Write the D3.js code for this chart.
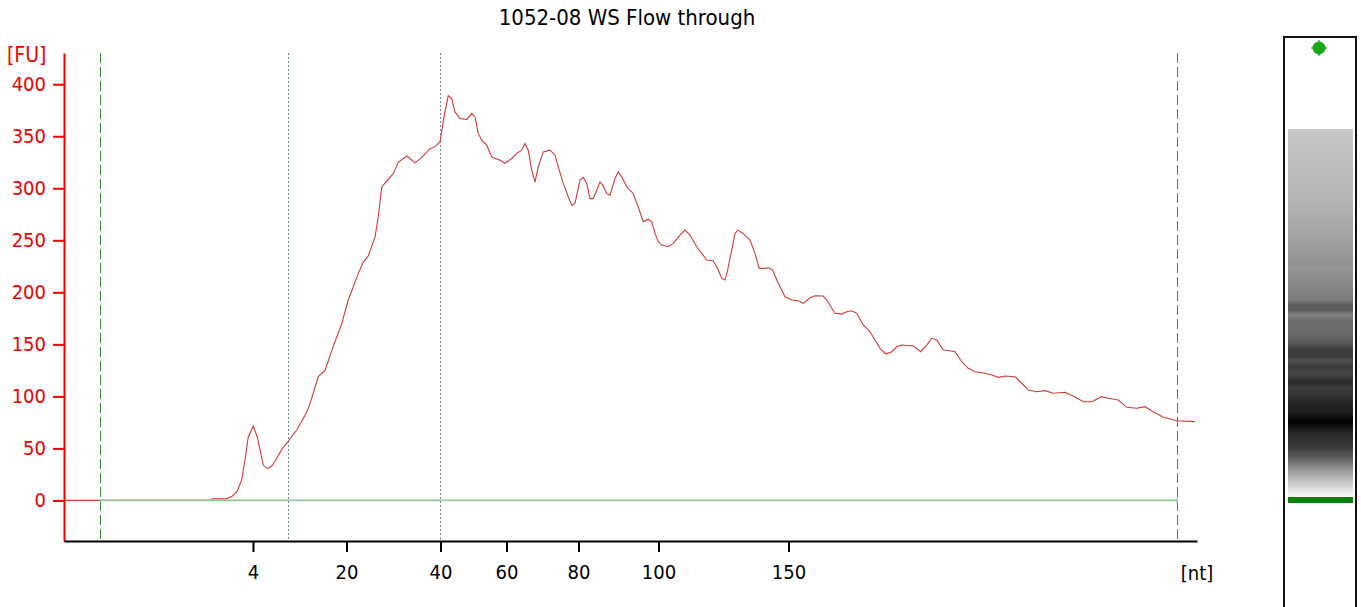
<!DOCTYPE html>
<html>
<head>
<meta charset="utf-8">
<script src="https://cdn.jsdelivr.net/npm/d3@7"></script>
<style>
  body { margin: 0; background: #fff; }
  svg { display: block; font-family: "DejaVu Sans Condensed", "DejaVu Sans", sans-serif; }
</style>
</head>
<body>
<svg id="chart" width="1361" height="607"></svg>
<script>
const title = '1052-08 WS Flow through';

// ladder peaks: size in nt and their migration time (s)
const ladderSizes = [4, 20, 40, 60, 80, 100, 150];
const ladderTimes = [22.56, 26.30, 30.06, 32.70, 35.58, 38.78, 43.98];
const lowerMarkerTime = 16.44;
const upperMarkerTime = 59.52;
const regionSizes = [10, 40]; // smear region, nt

const yTicks = [0, 50, 100, 150, 200, 250, 300, 350, 400];

// electropherogram trace: migration time (s) and fluorescence (FU)
const traceTime = [
  15.00, 20.88, 20.92, 21.48, 21.72, 21.92, 22.11, 22.24, 22.37, 22.57, 22.73, 22.84, 22.97, 23.13, 23.31, 23.51,
  23.71, 23.91, 24.31, 24.71, 24.84, 24.97, 25.17, 25.44, 25.77, 26.11, 26.37, 26.77, 26.97, 27.17, 27.44, 27.57,
  27.71, 27.84, 28.17, 28.37, 28.71, 28.84, 29.04, 29.31, 29.64, 29.84, 30.04, 30.20, 30.37, 30.51, 30.64, 30.84,
  31.11, 31.31, 31.44, 31.57, 31.71, 31.91, 32.11, 32.44, 32.64, 32.91, 33.11, 33.31, 33.44, 33.57, 33.71, 33.84,
  33.97, 34.17, 34.44, 34.64, 34.77, 34.97, 35.17, 35.31, 35.44, 35.64, 35.77, 35.91, 36.04, 36.17, 36.44, 36.55,
  36.71, 36.84, 37.04, 37.17, 37.31, 37.51, 37.77, 37.97, 38.17, 38.37, 38.51, 38.64, 38.77, 38.91, 39.17, 39.37,
  39.64, 39.84, 40.04, 40.31, 40.51, 40.71, 40.97, 41.17, 41.31, 41.44, 41.53, 41.71, 41.84, 41.95, 42.17, 42.44,
  42.64, 42.81, 43.04, 43.17, 43.35, 43.51, 43.84, 44.11, 44.37, 44.57, 44.84, 45.04, 45.37, 45.51, 45.84, 46.11,
  46.31, 46.51, 46.71, 46.97, 47.24, 47.44, 47.64, 47.88, 48.11, 48.31, 48.51, 48.97, 49.27, 49.51, 49.71, 49.91,
  50.17, 50.44, 50.64, 50.91, 51.17, 51.44, 51.84, 52.11, 52.37, 52.64, 53.04, 53.31, 53.57, 53.91, 54.24, 54.57,
  55.04, 55.37, 55.77, 56.11, 56.51, 56.77, 57.17, 57.51, 57.91, 58.24, 58.57, 58.97, 59.51, 60.24
];
const traceFU = [
  0, 0, 1.5, 1.5, 4, 8.5, 20, 39, 61, 71.5, 61, 48.5, 34, 30.5, 33, 40.5,
  49, 55, 67.7, 85, 93, 103, 119, 125, 148, 170, 192.6, 218, 229, 235, 253, 272.6,
  301, 305, 314, 325, 331, 328.6, 324.4, 329.6, 338, 340, 344.6, 368.6, 389, 386, 373.4, 367,
  366, 372, 368.6, 352.7, 346, 341.4, 330, 327, 324, 328.6, 333.5, 336.6, 343, 336.6, 317.4, 306,
  320.6, 335, 336.6, 331.8, 320.6, 304.7, 291.8, 283.8, 285.4, 307.8, 310.4, 304.7, 290, 290, 306, 303,
  295, 293.4, 309.4, 315.8, 311, 301.4, 295, 282, 267.8, 270, 267.8, 256.6, 248.6, 245.4, 243.8, 247,
  255, 259.8, 255, 243.8, 237.4, 231, 230.3, 221.4, 213.4, 211.8, 219.7, 240.6, 256.6, 259.8, 256.6, 250.2,
  237.4, 223, 223, 223.6, 221.4, 211.8, 195.7, 192.6, 191.9, 189.4, 194.8, 196.7, 196.4, 192.6, 179.8, 179.1,
  181.3, 182.3, 179.8, 168.6, 162.1, 154.2, 146.2, 140.7, 142.9, 147.7, 149.3, 148.4, 142.9, 149.3, 155.8, 154.2,
  144.5, 143.9, 142.9, 133.3, 127, 123.7, 122.2, 120.5, 118.3, 119.6, 118.9, 112.6, 106.1, 104.5, 105.5, 103,
  103.9, 100.4, 94.9, 94.9, 99.7, 98.2, 96.5, 89.5, 88.6, 90.1, 85.3, 79.9, 76.6, 75.7
];

// gel lane intensity profile: % along lane (top to lower marker) and grey level
const gelPos = [0, 11.1, 19.3, 28.3, 34.8, 36.1, 37.5, 41.8, 46.5, 47.8, 49.2, 50.5, 51.9, 55.4, 58.2, 60.1,
  62.0, 62.8, 64.7, 66.3, 68.8, 70.4, 73.6, 77.2, 79.6, 82.6, 86.4, 89.1, 91.8, 94.6, 97.3, 98.9, 100];
const gelGrey = [200, 188, 180, 165, 150, 143, 150, 138, 122, 92, 92, 130, 110, 108, 88, 60,
  60, 82, 58, 72, 42, 62, 42, 28, 0, 38, 58, 90, 138, 180, 216, 238, 248];

const svg = d3.select('#chart');
const red = '#ee0000';

const x = d3.scaleLinear().domain([15, 60.32]).range([64, 1197]);
const y = d3.scaleLinear().domain([-39, 430]).range([541, 53]);
const sizeToTime = d3.scaleLinear().domain(ladderSizes).range(ladderTimes);

// title
svg.append('text')
  .attr('x', 627).attr('y', 25)
  .attr('text-anchor', 'middle')
  .attr('font-size', 22)
  .attr('fill', '#000')
  .text(title);

// region lines (dotted)
svg.append('g').selectAll('line')
  .data(regionSizes)
  .enter().append('line')
  .attr('x1', d => x(sizeToTime(d))).attr('x2', d => x(sizeToTime(d)))
  .attr('y1', y.range()[1]).attr('y2', y.range()[0])
  .attr('stroke', '#6a8c8c').attr('stroke-width', 1)
  .attr('stroke-dasharray', '2,2')
  .attr('shape-rendering', 'crispEdges');

// marker lines (dashed green)
svg.append('g').selectAll('line')
  .data([lowerMarkerTime, upperMarkerTime])
  .enter().append('line')
  .attr('x1', d => x(d)).attr('x2', d => x(d))
  .attr('y1', y.range()[1]).attr('y2', y.range()[0])
  .attr('stroke', '#3a8f3a').attr('stroke-width', 1)
  .attr('stroke-dasharray', '10,4')
  .attr('shape-rendering', 'crispEdges');

// trace
const line = d3.line()
  .x((d, i) => x(traceTime[i]))
  .y(d => y(d));

svg.append('path')
  .datum(traceFU)
  .attr('fill', 'none')
  .attr('stroke', '#d03a3a')
  .attr('stroke-width', 1.1)
  .attr('d', line);

// baseline between markers
svg.append('line')
  .attr('x1', x(lowerMarkerTime)).attr('x2', x(upperMarkerTime))
  .attr('y1', y(0)).attr('y2', y(0))
  .attr('stroke', '#96c896').attr('stroke-width', 1.6);
svg.append('line')
  .attr('x1', x(upperMarkerTime)).attr('x2', x(upperMarkerTime))
  .attr('y1', y(0) - 3).attr('y2', y(0) + 3)
  .attr('stroke', '#96c896').attr('stroke-width', 1.2);

// y axis
const yAxis = svg.append('g')
  .attr('transform', `translate(${x.range()[0]},0)`)
  .call(d3.axisLeft(y).tickValues(yTicks).tickSize(11).tickSizeOuter(0).tickPadding(7));
yAxis.select('.domain').attr('stroke', red).attr('stroke-width', 2);
yAxis.selectAll('.tick line').attr('stroke', red).attr('stroke-width', 2);
yAxis.selectAll('.tick text')
  .attr('fill', red)
  .attr('font-size', 20);
yAxis.attr('font-family', null);

svg.append('text')
  .attr('x', 7).attr('y', 62)
  .attr('font-size', 21)
  .attr('fill', red)
  .text('[FU]');

// x axis
const xAxis = svg.append('g')
  .attr('transform', `translate(0,${y.range()[0]})`)
  .call(d3.axisBottom(x).tickValues(ladderTimes)
    .tickFormat((d, i) => ladderSizes[i])
    .tickSize(11).tickSizeOuter(0).tickPadding(13));
xAxis.select('.domain').attr('stroke', '#000').attr('stroke-width', 2);
xAxis.selectAll('.tick line').attr('stroke', '#000').attr('stroke-width', 2);
xAxis.selectAll('.tick text')
  .attr('fill', '#000')
  .attr('font-size', 20);
xAxis.attr('font-family', null);

svg.append('text')
  .attr('x', x.range()[1]).attr('y', 580)
  .attr('text-anchor', 'middle')
  .attr('font-size', 20)
  .attr('fill', '#000')
  .text('[nt]');

// gel lane
const gelX0 = 1288, gelX1 = 1353;
const gelY = d3.scaleLinear().domain([0, 100]).range([129, 497]);

const grad = svg.append('defs').append('linearGradient')
  .attr('id', 'gel')
  .attr('x1', 0).attr('y1', 0).attr('x2', 0).attr('y2', 1);
grad.selectAll('stop')
  .data(gelPos)
  .enter().append('stop')
  .attr('offset', d => d / 100)
  .attr('stop-color', (d, i) => d3.rgb(gelGrey[i], gelGrey[i], gelGrey[i]));

svg.append('rect')
  .attr('x', 1284).attr('y', 37)
  .attr('width', 72).attr('height', 600)
  .attr('fill', '#fff')
  .attr('stroke', '#111').attr('stroke-width', 2);

svg.append('rect')
  .attr('x', gelX0).attr('y', gelY(0))
  .attr('width', gelX1 - gelX0).attr('height', gelY(100) - gelY(0))
  .attr('fill', 'url(#gel)');

// lower marker band
svg.append('rect')
  .attr('x', gelX0).attr('y', gelY(100))
  .attr('width', gelX1 - gelX0).attr('height', 6)
  .attr('fill', '#0a820a');

// upper marker dot
const dot = svg.append('g').attr('transform', 'translate(1319,48)');
dot.append('circle').attr('r', 6.5).attr('fill', '#1aa81a');
dot.selectAll('line')
  .data([0, 90])
  .enter().append('line')
  .attr('x1', -8).attr('x2', 8)
  .attr('transform', d => `rotate(${d})`)
  .attr('stroke', '#1aa81a').attr('stroke-width', 1.2);
</script>
</body>
</html>
